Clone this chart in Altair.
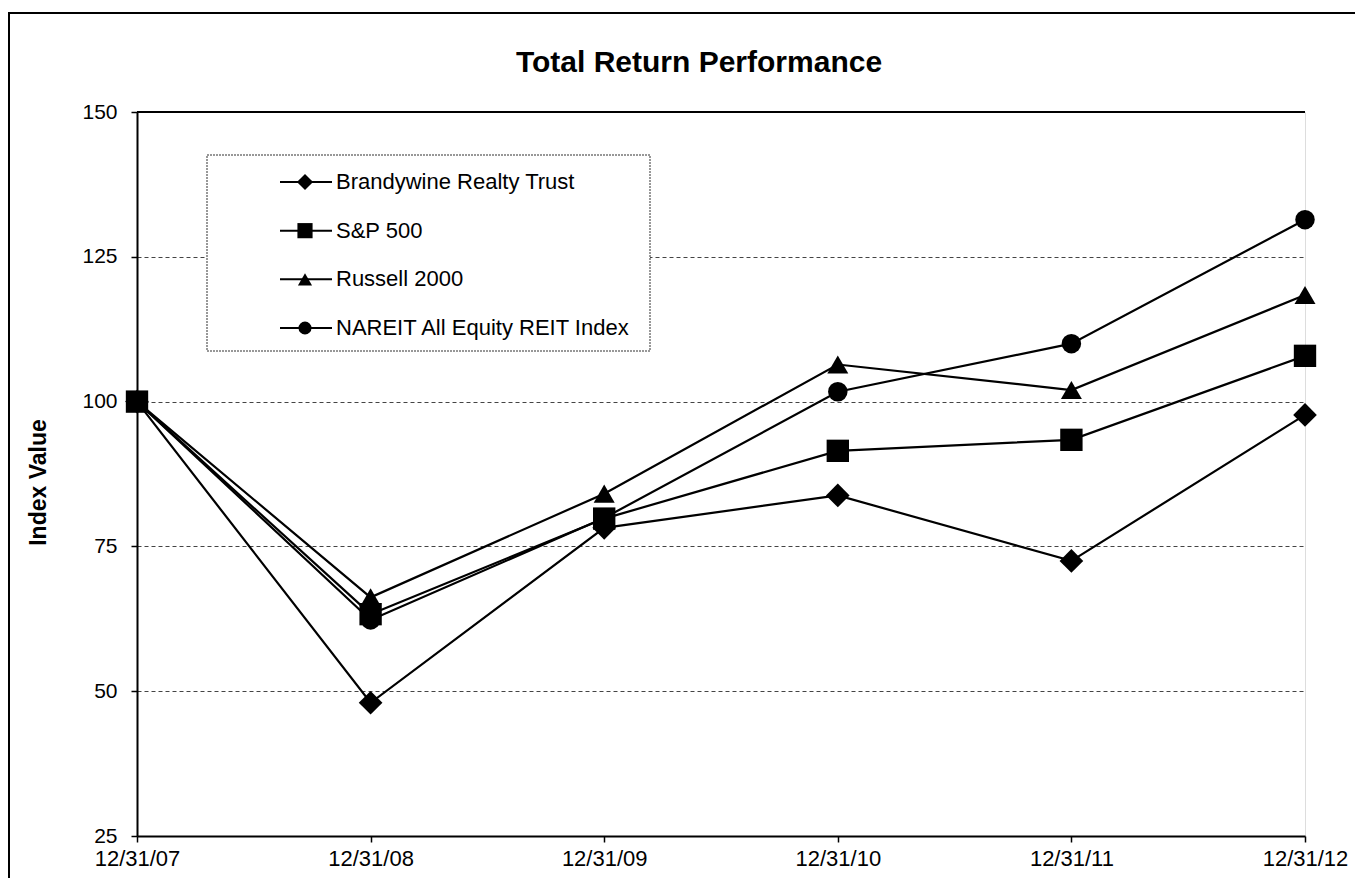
import altair as alt
import pandas as pd

dates = ["12/31/07", "12/31/08", "12/31/09", "12/31/10", "12/31/11", "12/31/12"]
series = ["Brandywine Realty Trust", "S&P 500", "Russell 2000", "NAREIT All Equity REIT Index"]
brandywine = [100, 48.0, 78.2, 83.8, 72.5, 97.7]
sp500 = [100, 63.3, 79.8, 91.5, 93.4, 107.9]
russell = [100, 66.2, 84.1, 106.4, 102.0, 118.4]
nareit = [100, 62.3, 79.9, 101.7, 110.0, 131.4]
shapes = ["diamond", "square", "triangle-up", "circle"]
marker_sizes = [560, 380, 420, 400]
legend_sizes = [260, 170, 190, 190]
y_ticks = [25, 50, 75, 100, 125, 150]
title_text = "Total Return Performance"
y_title = "Index Value"

FONT = "Liberation Sans"

rows = []
for name, vals in zip(series, [brandywine, sp500, russell, nareit]):
    for d, v in zip(dates, vals):
        rows.append({"date": d, "series": name, "value": v})
df = pd.DataFrame(rows)
legend_df = pd.DataFrame({"series": series})
title_df = pd.DataFrame({"t": [title_text]})

X = alt.X("date:O", sort=dates, scale=alt.Scale(type="point", padding=0),
          axis=alt.Axis(labelAngle=0, labelFontSize=22, labelFont=FONT, labelColor="black",
                        tickSize=6, tickColor="black", tickWidth=1.5, labelPadding=6,
                        domainColor="black", domainWidth=2, grid=False, title=None))
yscale = alt.Scale(domain=[25, 150], nice=False, zero=False)
Y_axis = alt.Y("value:Q", scale=yscale,
               axis=alt.Axis(values=y_ticks, tickSize=6, tickColor="black", tickWidth=1.5,
                             labelPadding=14, labelFontSize=21, labelFont=FONT, labelColor="black",
                             domainColor="black", domainWidth=2,
                             grid=True, gridColor="#444444", gridDash=[4, 3], gridWidth=1,
                             title=y_title, titleFont=FONT, titleFontSize=23, titleFontWeight="bold",
                             titleColor="black", titleX=-99, titleY=370, titleAngle=270,
                             titleAlign="center", titleBaseline="middle"))
Y_noaxis = alt.Y("value:Q", scale=yscale, axis=None)
shape_enc = alt.Shape("series:N", scale=alt.Scale(domain=series, range=shapes), legend=None)
LY = alt.Y("series:N", scale=alt.Scale(type="point", domain=series, range=[70, 216], padding=0), axis=None)

frame = alt.Chart(title_df).mark_rect(fillOpacity=0, stroke="black", strokeWidth=2).encode(
    x=alt.value(-128), x2=alt.value(1300), y=alt.value(-99), y2=alt.value(800))

top_border = alt.Chart(title_df).mark_rule(color="black", strokeWidth=2).encode(
    x=alt.value(0), x2=alt.value(1168), y=alt.value(0))

lines = alt.Chart(df).mark_line(color="black", strokeWidth=2.2).encode(
    x=X, y=Y_axis, detail="series:N")

points = alt.Chart(df).mark_point(filled=True, color="black", opacity=1).encode(
    x=X, y=Y_noaxis, shape=shape_enc,
    size=alt.Size("series:N", scale=alt.Scale(domain=series, range=marker_sizes), legend=None))

legend_box = alt.Chart(title_df).mark_rect(fill="white", stroke="#777777", strokeWidth=1.5,
                                           strokeDash=[2, 1]).encode(
    x=alt.value(70), x2=alt.value(513), y=alt.value(43), y2=alt.value(239))

legend_rules = alt.Chart(legend_df).mark_rule(color="black", strokeWidth=2).encode(
    x=alt.value(143), x2=alt.value(195), y=LY)

legend_points = alt.Chart(legend_df).mark_point(filled=True, color="black", opacity=1).encode(
    x=alt.value(168), y=LY, shape=shape_enc,
    size=alt.Size("series:N", scale=alt.Scale(domain=series, range=legend_sizes), legend=None))

legend_text = alt.Chart(legend_df).mark_text(align="left", baseline="middle", fontSize=22,
                                             font=FONT, color="black").encode(
    x=alt.value(199), y=LY, text="series:N")

title = alt.Chart(title_df).mark_text(align="center", baseline="alphabetic", fontSize=30,
                                      fontWeight="bold", font=FONT, color="black").encode(
    x=alt.value(562), y=alt.value(-40), text="t:N")

chart = alt.layer(
    frame, lines, top_border, points, legend_box, legend_rules, legend_points, legend_text, title
).resolve_scale(y="independent", size="independent").properties(
    width=1168, height=724,
    autosize=alt.AutoSizeParams(type="none"),
    padding={"left": 129, "top": 104, "right": 50, "bottom": 42},
).configure_view(stroke="black", strokeWidth=2).configure(background="white")

chart.save("out.html", embed_options={"renderer": "svg", "actions": False})
